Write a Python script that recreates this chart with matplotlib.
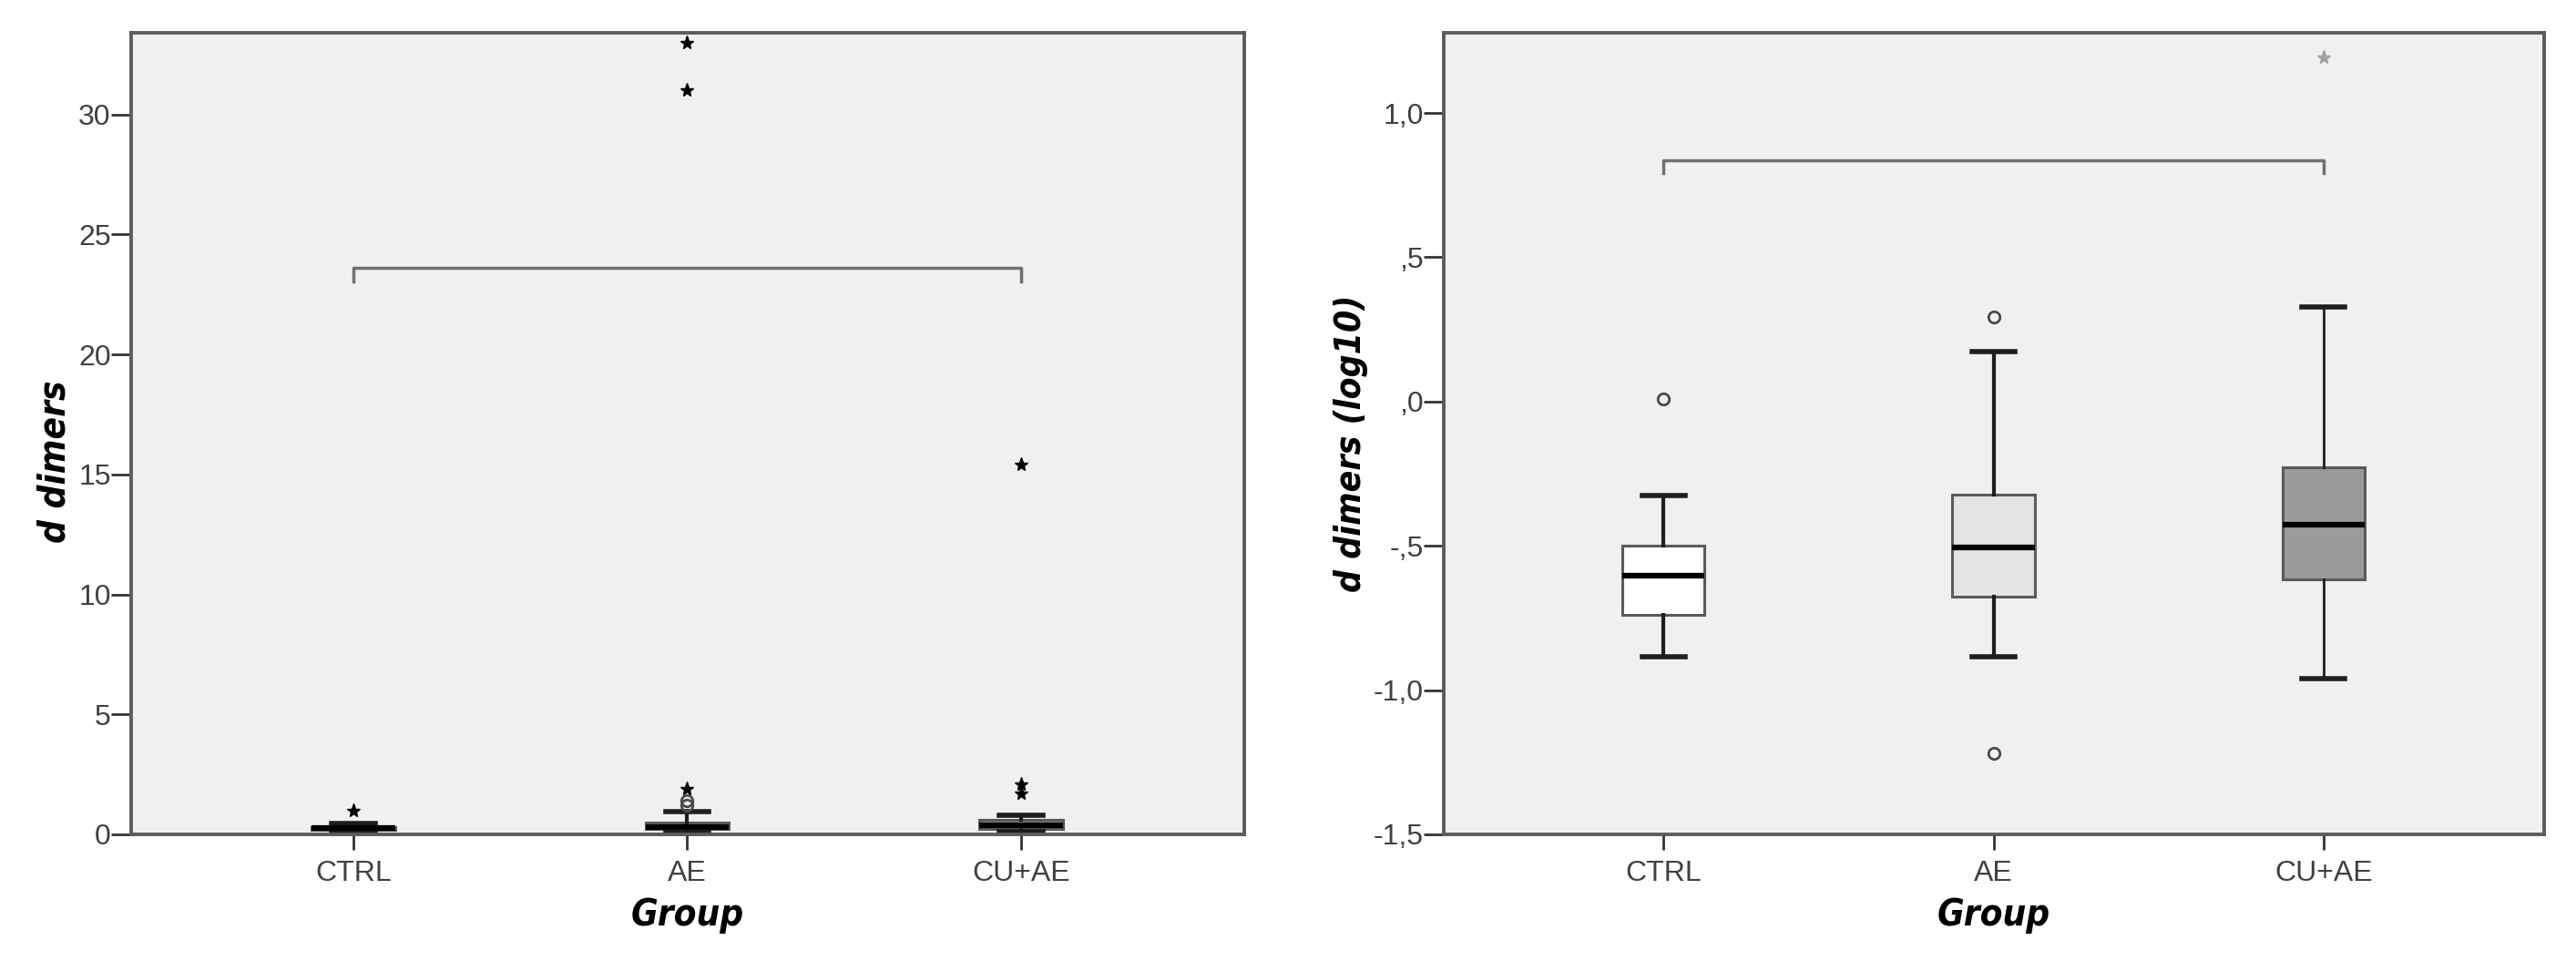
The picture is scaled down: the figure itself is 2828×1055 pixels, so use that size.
import matplotlib
matplotlib.use('Agg')
import matplotlib.pyplot as plt

groups = ['CTRL', 'AE', 'CU+AE']
fills = ['#ffffff', '#e4e4e4', '#9a9a9a']

# raw d-dimers (left panel)
raw_q1 = [0.18, 0.21, 0.24]
raw_med = [0.25, 0.31, 0.37]
raw_q3 = [0.32, 0.48, 0.59]
raw_wlo = [0.13, 0.08, 0.11]
raw_whi = [0.47, 0.95, 0.80]
raw_out = [[], [1.2, 1.4], []]
raw_ext = [[1.0], [1.9, 31.0, 33.0], [1.7, 2.1, 15.4]]

# log10 d-dimers (right panel)
log_q1 = [-0.74, -0.675, -0.617]
log_med = [-0.604, -0.507, -0.428]
log_q3 = [-0.499, -0.323, -0.229]
log_wlo = [-0.886, -0.886, -0.959]
log_whi = [-0.325, 0.173, 0.328]
log_out = [[0.01], [0.293, -1.22], []]
log_ext = [[], [], [1.193]]

raw_bracket = 23.6
log_bracket = 0.837

tick_font = ['Liberation Sans', 'DejaVu Sans']
lab_font = ['DejaVu Sans']


def style_ticks(ax):
    for t in ax.get_xticklabels() + ax.get_yticklabels():
        t.set_family(tick_font)
        t.set_fontsize(23)
        t.set_color('#404040')


def draw(ax, q1, med, q3, wlo, whi, outs, exts, bracket, drop, ext_col, wlw):
    pos = list(range(1, len(groups) + 1))
    for i in range(len(groups)):
        st = {'label': groups[i], 'q1': q1[i], 'med': med[i], 'q3': q3[i],
              'whislo': wlo[i], 'whishi': whi[i], 'fliers': []}
        b = ax.bxp([st], positions=[pos[i]], widths=0.25, patch_artist=True,
                   showfliers=False,
                   boxprops=dict(facecolor=fills[i], edgecolor='#5a5a5a', linewidth=2.2),
                   medianprops=dict(color='black', linewidth=4.5),
                   whiskerprops=dict(color='#1e1e1e', linewidth=wlw[i]),
                   capprops=dict(color='#1e1e1e', linewidth=4))
        for c in b['caps']:
            x = c.get_xdata()
            mid = (x[0] + x[1]) / 2
            c.set_xdata([mid - 0.065, mid + 0.065])
        for y in outs[i]:
            ax.plot(pos[i], y, 'o', mfc='none', mec='#4a4a4a', mew=2, ms=9)
        for y in exts[i]:
            ax.plot(pos[i], y, '*', color=ext_col, ms=11)
    ax.plot([1, 1, 3, 3], [bracket - drop, bracket, bracket, bracket - drop],
            color='#707070', lw=2.5)
    ax.set_xlim(0.335, 3.667)
    ax.set_xticks(pos)
    ax.set_xticklabels(groups)
    ax.set_facecolor('#f0f0f0')
    for s in ax.spines.values():
        s.set_color('#5c5c5c')
        s.set_linewidth(2.8)
    ax.tick_params(axis='x', length=12, width=2, color='#333333', pad=8)
    ax.tick_params(axis='y', length=16, width=2, color='#333333', pad=0)
    ax.set_xlabel('Group', family=lab_font, fontsize=29, fontweight='bold',
                  fontstretch='condensed', style='italic', labelpad=8)


fig = plt.figure(figsize=(28.28, 10.55), dpi=100)
ax1 = fig.add_axes([0.0509, 0.1318, 0.432, 0.834])
ax2 = fig.add_axes([0.5605, 0.1318, 0.427, 0.834])

ax1.set_ylim(0, 33.4)
ax1.set_yticks([0, 5, 10, 15, 20, 25, 30])
draw(ax1, raw_q1, raw_med, raw_q3, raw_wlo, raw_whi, raw_out, raw_ext,
     raw_bracket, 0.55, 'black', [3, 3, 3])
style_ticks(ax1)
ax1.set_ylabel('d dimers', family=lab_font, fontsize=29, fontweight='bold',
               fontstretch='condensed', style='italic', labelpad=4)
ax1.yaxis.label.set_y(0.465)

ax2.set_ylim(-1.5, 1.278)
yt = [-1.5, -1.0, -0.5, 0.0, 0.5, 1.0]
ax2.set_yticks(yt)
draw(ax2, log_q1, log_med, log_q3, log_wlo, log_whi, log_out, log_ext,
     log_bracket, 0.045, '#a0a0a0', [3, 3, 2])
ax2.set_yticklabels(['-1,5', '-1,0', '-,5', ',0', ',5', '1,0'])
style_ticks(ax2)
ax2.set_ylabel('d dimers (log10)', family=lab_font, fontsize=28, fontweight='bold',
               fontstretch='condensed', style='italic', labelpad=4)
ax2.yaxis.label.set_y(0.488)

fig.savefig('out.png', dpi=100, facecolor='white')
